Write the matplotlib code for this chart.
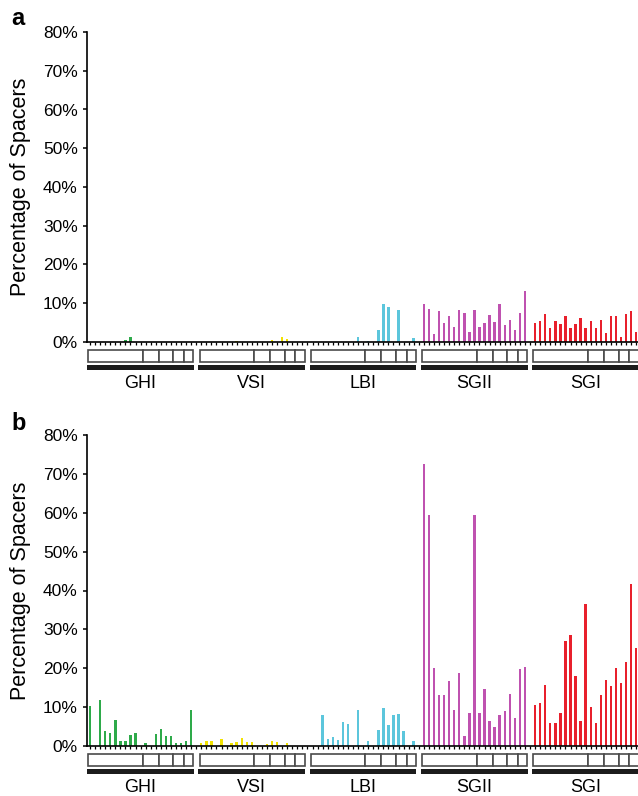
import matplotlib
matplotlib.use("Agg")
import matplotlib.pyplot as plt
from matplotlib.patches import Rectangle
import numpy as np

plt.rcParams['font.family'] = ['Liberation Sans', 'DejaVu Sans']

groups = ["GHI", "VSI", "LBI", "SGII", "SGI"]
colors = ["#2eaa4a", "#f2e200", "#5cc6dc", "#bf52b0", "#e8202c"]

# panel a values (% of spacers) at positions 0..20 within each group
ghi_a  = [0, 0, 0, 0, 0, 0, 0, 0.6, 1.2, 0, 0, 0, 0, 0, 0, 0, 0, 0, 0, 0, 0]
vsi_a  = [0, 0, 0, 0, 0, 0, 0, 0.3, 0, 0, 0, 0, 0, 0, 0.5, 0, 1.2, 0.8, 0, 0, 0]
lbi_a  = [0, 0, 0, 0, 0, 0, 0, 0, 0, 1.2, 0, 0.3, 0, 3.0, 9.8, 9.1, 0, 8.2, 0, 0, 1.1]
sgii_a = [9.7, 8.4, 2.0, 8.1, 4.9, 6.7, 3.9, 8.2, 7.4, 2.6, 8.2, 3.8, 4.9, 7.0, 5.1,
          9.7, 4.3, 5.8, 3.2, 7.5, 13.2]
sgi_a  = [4.8, 5.4, 7.2, 3.7, 5.5, 4.7, 6.6, 3.7, 4.7, 6.1, 3.7, 5.5, 3.6, 5.6, 2.4,
          6.8, 6.8, 1.2, 7.2, 7.9, 2.6]

# panel b values
ghi_b  = [10.2, 0, 11.9, 3.8, 3.4, 6.8, 1.4, 1.3, 2.8, 3.3, 0, 0.8, 0, 3.0, 4.3,
          2.5, 2.6, 0.8, 0.8, 1.4, 9.2]
vsi_b  = [0.7, 1.3, 1.3, 0, 1.9, 0, 0.7, 1.0, 2.1, 1.0, 1.0, 0, 0, 0.5, 1.2, 1.0,
          0, 0.7, 0, 0, 0]
lbi_b  = [0, 0, 8.1, 1.7, 2.3, 1.5, 6.1, 5.7, 0, 9.2, 0, 1.3, 0, 4.2, 9.7, 5.5,
          7.9, 8.2, 3.9, 0, 1.3]
sgii_b = [72.6, 59.4, 20.0, 13.0, 13.1, 16.7, 9.2, 18.7, 2.5, 8.6, 59.5, 8.4, 14.7,
          6.4, 4.9, 7.9, 8.9, 13.4, 7.2, 19.7, 20.4]
sgi_b  = [10.6, 11.0, 15.8, 5.9, 5.8, 8.5, 26.9, 28.6, 18.1, 6.4, 36.6, 10.1, 6.0,
          13.0, 17.0, 15.4, 20.1, 16.1, 21.6, 41.7, 25.2]

panel_a = [ghi_a, vsi_a, lbi_a, sgii_a, sgi_a]
panel_b = [ghi_b, vsi_b, lbi_b, sgii_b, sgi_b]

yticks = [0, 10, 20, 30, 40, 50, 60, 70, 80]
ytick_labels = ["0%", "10%", "20%", "30%", "40%", "50%", "60%", "70%", "80%"]

n_pos = 21        # positions per group
group_step = 22   # one empty slot between groups
box_edges = [-0.35, 10.45, 13.6, 16.5, 18.6, 20.45]

W, H = 638, 796
fig = plt.figure(figsize=(W / 100, H / 100), dpi=100)

left_px = 87.3
pitch = 5.058
x0_px = 90.0
xmin = (left_px - x0_px) / pitch
xmax = (W - x0_px) / pitch


def fx(px):
    return px / W


def fy(py):
    return 1 - py / H


def draw_panel(values, top_px, bottom_px, letter, letter_y):
    ax = fig.add_axes([fx(left_px), fy(bottom_px), fx(W - left_px),
                       (bottom_px - top_px) / H])
    for g, (vals, col) in enumerate(zip(values, colors)):
        xs = np.arange(n_pos) + g * group_step
        ax.bar(xs, vals, width=0.48, color=col, linewidth=0)
    ax.set_xlim(xmin, xmax)
    ax.set_ylim(0, 80)
    ax.set_yticks(yticks)
    ax.set_yticklabels(ytick_labels)
    ax.tick_params(axis='y', length=3, width=1.1, pad=3.8, labelsize=12.5,
                   colors='black')
    ax.set_xticks(np.arange(0, int(xmax) + 1))
    ax.tick_params(axis='x', length=2.2, width=0.9, labelbottom=False,
                   direction='out')
    for s in ['top', 'right']:
        ax.spines[s].set_visible(False)
    for s in ['left', 'bottom']:
        ax.spines[s].set_linewidth(1.2)
    ax.set_ylabel("Percentage of Spacers", fontsize=15.5)
    ax.yaxis.set_label_coords((31 - left_px) / (W - left_px), 0.5)

    # strip with gene boxes and group labels
    strip_h = 60
    sx = fig.add_axes([fx(left_px), fy(bottom_px + strip_h), fx(W - left_px),
                       strip_h / H])
    sx.set_xlim(xmin, xmax)
    sx.set_ylim(strip_h, 0)
    sx.axis('off')
    for g, name in enumerate(groups):
        off = g * group_step
        for a, b in zip(box_edges[:-1], box_edges[1:]):
            sx.add_patch(Rectangle((off + a, 7.5), b - a, 12.5, facecolor='white',
                                   edgecolor='#4a4a4a', linewidth=1.2))
        sx.add_patch(Rectangle((off - 0.55, 22.5), 21.05, 5.0,
                               facecolor='#1c1c1c', edgecolor='none'))
        sx.text(off + 10, 46, name, ha='center', va='baseline', fontsize=13)

    fig.text(fx(11), fy(letter_y), letter, fontsize=17, fontweight='bold',
             ha='left', va='baseline')
    return ax


draw_panel(panel_a, 32, 342, "a", 25)
draw_panel(panel_b, 435, 746, "b", 430)

fig.savefig("out.png", dpi=100)
